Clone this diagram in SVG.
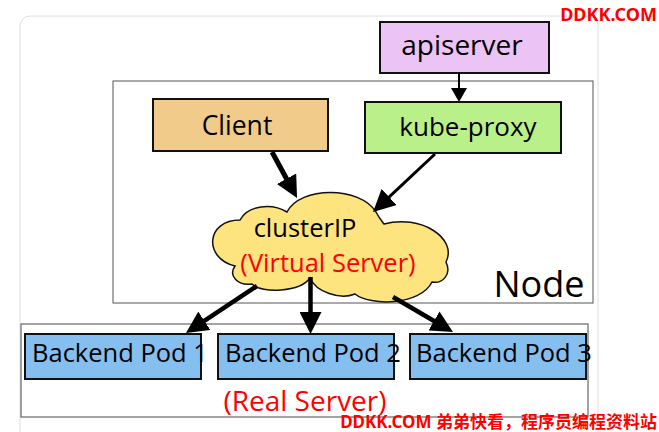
<svg xmlns="http://www.w3.org/2000/svg" width="659" height="432" viewBox="0 0 659 432">
<defs>
<style>
.box{stroke:#111;stroke-width:2}
.lbl{font-family:"Open Sans","Noto Sans",sans-serif;fill:#000;text-anchor:middle}
.red{font-family:"Open Sans","Noto Sans",sans-serif;fill:#ff0000;text-anchor:middle}
.wm{font-family:"Noto Sans","Noto Sans CJK SC",sans-serif;font-weight:bold;fill:#ff0000}
.conn{stroke:#000;fill:none}
</style>
<marker id="head" markerUnits="userSpaceOnUse" markerWidth="22" markerHeight="22" refX="10" refY="11" orient="auto">
<path d="M0,0 L22,11 L0,22 Z" fill="#000"/>
</marker>
<marker id="small" markerUnits="userSpaceOnUse" markerWidth="14" markerHeight="16" refX="0" refY="8" orient="auto">
<path d="M0,0 L14,8 L0,16 Z" fill="#000"/>
</marker>
</defs>
<rect width="659" height="432" fill="#fff"/>
<rect x="20" y="16" width="578" height="440" rx="10" fill="#fff" stroke="#dcdde6" stroke-width="1"/>
<g id="node-frame">
<rect x="113" y="81" width="480" height="222" fill="#fff" stroke="#555" stroke-width="1"/>
<text class="lbl" x="539" y="297" font-size="36">Node</text>
</g>
<g id="real-server-frame">
<rect x="21" y="324" width="567" height="93" fill="none" stroke="#666" stroke-width="1.2"/>
<text class="red" x="305" y="411" font-size="28">(Real Server)</text>
</g>
<g id="apiserver">
<rect class="box" x="380" y="22" width="169" height="51" fill="#ecc3f5"/>
<text class="lbl" x="462" y="55" font-size="28">apiserver</text>
</g>
<g id="client">
<rect class="box" x="153" y="99" width="175" height="52" fill="#f0cb8a"/>
<text class="lbl" x="237" y="135" font-size="26.5">Client</text>
</g>
<g id="kube-proxy">
<rect class="box" x="365" y="102" width="196" height="51" fill="#b9f08a"/>
<text class="lbl" x="468" y="136" font-size="26">kube-proxy</text>
</g>
<g id="clusterip">
<path d="M235,266 C203,258 206,220 240,220 C248,205 272,203 287,212 C300,186 360,186 376,212 C379,218 382,221 384,224 C420,214 458,238 446,262 C452,275 442,284 432,282 C420,306 370,306 355,294 C340,300 316,292 310,278 C300,292 262,294 252,284 C238,286 228,276 235,266 Z" fill="#fde47f" stroke="#111" stroke-width="1.5"/>
<text class="lbl" x="305" y="237" font-size="25.5">clusterIP</text>
<text class="red" x="328" y="272" font-size="25.5">(Virtual Server)</text>
</g>
<g id="pod1">
<rect class="box" x="25" y="334" width="176" height="45" fill="#85bff0"/>
<text class="lbl" x="32" y="362" font-size="25.5" style="text-anchor:start">Backend Pod 1</text>
</g>
<g id="pod2">
<rect class="box" x="218" y="334" width="176" height="45" fill="#85bff0"/>
<text class="lbl" x="225" y="362" font-size="25.5" style="text-anchor:start">Backend Pod 2</text>
</g>
<g id="pod3">
<rect class="box" x="410" y="334" width="176" height="45" fill="#85bff0"/>
<text class="lbl" x="416" y="362" font-size="25.5" style="text-anchor:start">Backend Pod 3</text>
</g>
<g id="connectors">
<line class="conn" x1="459" y1="73" x2="459" y2="88" stroke-width="2" marker-end="url(#small)"/>
<line class="conn" x1="272" y1="152" x2="291.3" y2="187.5" stroke-width="5" marker-end="url(#head)"/>
<line class="conn" x1="435" y1="154" x2="381.8" y2="203.8" stroke-width="3" marker-end="url(#head)"/>
<line class="conn" x1="257" y1="286" x2="196" y2="326.3" stroke-width="4.5" marker-end="url(#head)"/>
<line class="conn" x1="310.5" y1="277" x2="310.5" y2="322" stroke-width="4.5" marker-end="url(#head)"/>
<line class="conn" x1="393" y1="297" x2="442.6" y2="326" stroke-width="4.5" marker-end="url(#head)"/>
</g>
<text class="wm" x="657" y="21" font-size="18" text-anchor="end">DDKK.COM</text>
<text class="wm" x="657" y="428" font-size="17" text-anchor="end">DDKK.COM 弟弟快看，程序员编程资料站</text>
</svg>
